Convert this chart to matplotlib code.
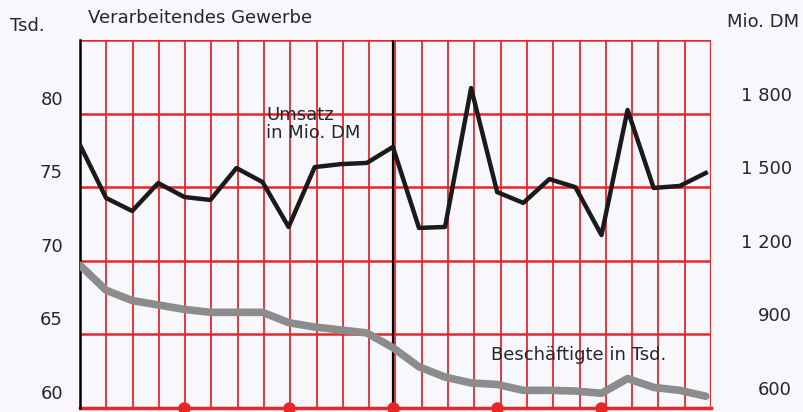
import matplotlib.pyplot as plt
import matplotlib.transforms as mtransforms
import numpy as np

# Daten
monate = np.arange(25)
umsatz = [1672, 1456, 1403, 1517, 1460, 1448, 1578, 1521, 1338, 1582, 1594, 1599, 1664,
          1334, 1338, 1904, 1480, 1436, 1533, 1500, 1305, 1815, 1497, 1505, 1558]
beschaeftigte = [69.7, 68.0, 67.3, 67.0, 66.7, 66.5, 66.5, 66.5, 65.8, 65.5, 65.3, 65.1, 64.1,
                 62.8, 62.1, 61.7, 61.6, 61.2, 61.2, 61.15, 61.0, 62.0, 61.4, 61.2, 60.8]
links_ticks = [60, 65, 70, 75, 80]
links_labels = ['60', '65', '70', '75', '80']
rechts_ticks = [600, 900, 1200, 1500, 1800]
rechts_labels = ['600', '900', '1 200', '1 500', '1 800']
quartale = [4, 8, 12, 16, 20]

plt.rcParams['font.family'] = ['DejaVu Sans']
bg = '#f8f7fb'
rot = '#e8262a'
txt = '#262626'
fs = 13
xmax = 24.2  # Raster etwas breiter als die Datenreihe

fig = plt.figure(figsize=(8.04, 4.12), dpi=100, facecolor=bg)
ax = fig.add_axes([80/804, 4/412, 631/804, 368/412])
ax.set_facecolor(bg)
ax.set_xlim(0, xmax)
ax.set_ylim(60, 85)

# Raster
for x in range(1, 24):
    ax.axvline(x * xmax / 24, color=rot, lw=1.3, zorder=1)
ax.axvline(xmax, color=rot, lw=1.5, zorder=1)
for y in [65, 70, 75, 80, 85]:
    ax.axhline(y, color=rot, lw=1.8, zorder=1)
ax.axhline(60, color=rot, lw=2.5, zorder=1, clip_on=False)
ax.axvline(12, color='black', lw=1.6, zorder=2)

for s in ['top', 'right', 'bottom']:
    ax.spines[s].set_visible(False)
ax.spines['left'].set_color('black')
ax.spines['left'].set_linewidth(1.8)
ax.set_xticks([])
ax.set_yticks([])

ax.plot(monate, beschaeftigte, color='#8c8c8c', lw=5.5, solid_capstyle='round', zorder=3)
ax.plot(quartale, [60] * len(quartale), 'o', color=rot, ms=8, clip_on=False, zorder=4)

ax2 = ax.twinx()
ax2.set_ylim(600, 2100)
for s in ax2.spines.values():
    s.set_visible(False)
ax2.set_yticks([])
ax2.plot(monate, umsatz, color='#1a1a1a', lw=3.2, zorder=5)

# Achsenbeschriftungen oberhalb der Rasterlinien
trans_l = mtransforms.blended_transform_factory(ax.transAxes, ax.transData)
for v, s in zip(links_ticks, links_labels):
    ax.annotate(s, xy=(0, v), xycoords=trans_l, xytext=(-17, 14), textcoords='offset pixels',
                ha='right', va='center', fontsize=fs, color=txt, annotation_clip=False)
trans_r = mtransforms.blended_transform_factory(ax2.transAxes, ax2.transData)
for v, s in zip(rechts_ticks, rechts_labels):
    ax2.annotate(s, xy=(1, v), xycoords=trans_r, xytext=(81, 18), textcoords='offset pixels',
                 ha='right', va='center', fontsize=fs, color=txt, annotation_clip=False)

fig.text(10/804, 1 - 26/412, 'Tsd.', fontsize=fs, va='center', ha='left', color=txt)
fig.text(88/804, 1 - 18/412, 'Verarbeitendes Gewerbe', fontsize=fs, va='center', ha='left', color=txt)
fig.text(727/804, 1 - 22/412, 'Mio. DM', fontsize=fs, va='center', ha='left', color=txt)
ax.text(7.15, 79.3, 'Umsatz\nin Mio. DM', fontsize=fs, va='center', ha='left', linespacing=1.05,
        color=txt, zorder=6)
ax.text(15.75, 63.6, 'Beschäftigte in Tsd.', fontsize=fs, va='center', ha='left', color=txt, zorder=6)

fig.savefig('out.png', dpi=100, facecolor=bg)
